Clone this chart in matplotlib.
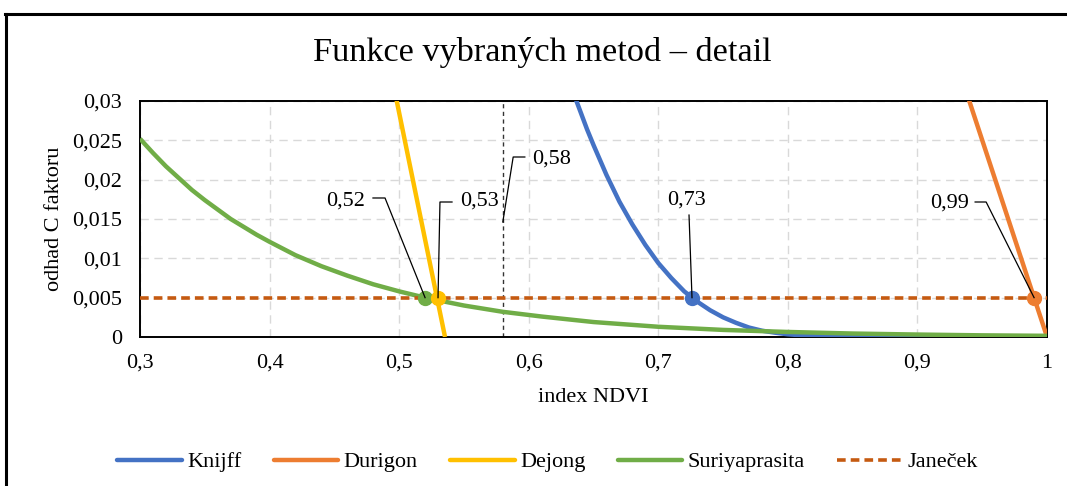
import matplotlib
matplotlib.use("Agg")
import matplotlib.pyplot as plt
from matplotlib.lines import Line2D
from matplotlib.ticker import FuncFormatter

plt.rcParams.update({
    "font.family": ["Liberation Serif", "DejaVu Serif"],
    "font.size": 16,
})

# ---------------------------------------------------------------------------
# Data
# ---------------------------------------------------------------------------
knijff_x = [0.63, 0.635, 0.64, 0.645, 0.65, 0.66, 0.67, 0.68, 0.69, 0.70, 0.71,
            0.72, 0.73, 0.74, 0.75, 0.76, 0.77, 0.78, 0.79, 0.80, 0.82, 0.85,
            0.90, 1.00]
knijff_y = [0.0332, 0.0308, 0.0286, 0.0264, 0.0244, 0.0206, 0.0172, 0.0143,
            0.0117, 0.0094, 0.0075, 0.0058, 0.0045, 0.0034, 0.0025, 0.0018,
            0.0012, 0.0008, 0.00055, 0.00034, 0.00011, 0.00001, 0.0, 0.0]

durigon_x = [0.93, 0.95, 0.97, 0.99, 1.00]
durigon_y = [0.035, 0.025, 0.015, 0.005, 0.0]

dejong_x = [0.49, 0.50, 0.52, 0.5354]
dejong_y = [0.0366, 0.0285, 0.0124, 0.0]

suriya_x = [0.30, 0.31, 0.32, 0.33, 0.34, 0.35, 0.36, 0.37, 0.38, 0.39, 0.40,
            0.42, 0.44, 0.46, 0.48, 0.50, 0.52, 0.55, 0.58, 0.61, 0.65, 0.70,
            0.75, 0.80, 0.85, 0.90, 0.95, 1.00]
suriya_y = [0.0252, 0.0234, 0.0217, 0.0202, 0.0187, 0.0174, 0.0162, 0.0150,
            0.0140, 0.0130, 0.0121, 0.0104, 0.0090, 0.0078, 0.0067, 0.0058,
            0.0050, 0.0040, 0.0032, 0.0026, 0.0019, 0.0013, 0.0009, 0.00064,
            0.00044, 0.00031, 0.00021, 0.00015]

janecek_x = [0.30, 1.00]
janecek_y = [0.005, 0.005]

# intersections with the Janeček limit
cross_x = [0.52, 0.53, 0.726, 0.99]
cross_y = [0.005, 0.005, 0.005, 0.005]
cross_labels = ["0,52", "0,53", "0,73", "0,99"]

ndvi_mark = 0.58

C_KNIJFF = "#4472C4"
C_DURIGON = "#ED7D31"
C_DEJONG = "#FFC000"
C_SURIYA = "#70AD47"
C_JANECEK = "#C55A11"

fig = plt.figure(figsize=(10.67, 4.86), dpi=100)
ax = fig.add_axes([0.1312, 0.3066, 0.8501, 0.4856])

lw = 3.2
ax.plot(knijff_x, knijff_y, color=C_KNIJFF, lw=lw, solid_capstyle="butt", zorder=3, label="Knijff")
ax.plot(durigon_x, durigon_y, color=C_DURIGON, lw=lw, solid_capstyle="butt", zorder=3, label="Durigon")
ax.plot(dejong_x, dejong_y, color=C_DEJONG, lw=lw, solid_capstyle="butt", zorder=3, label="Dejong")
ax.plot(suriya_x, suriya_y, color=C_SURIYA, lw=lw, solid_capstyle="butt", zorder=4, label="Suriyaprasita")
ax.plot(janecek_x, janecek_y, color=C_JANECEK, lw=2.6, ls=(0, (2.4, 1.4)), zorder=5, label="Janeček")

# vertical NDVI = 0.58 line
ax.plot([ndvi_mark, ndvi_mark], [0, 0.03], color="#333333", lw=1.0, ls=(0, (3, 2.5)), zorder=2)

# intersection markers
for xx, yy, c in zip(cross_x, cross_y, [C_SURIYA, C_DEJONG, C_KNIJFF, C_DURIGON]):
    ax.plot([xx], [yy], "o", color=c, ms=10, mec=c, zorder=6, clip_on=False)

# data labels with leader lines
lead_kw = dict(color="black", lw=0.9, zorder=7)
# 0,52
ax.plot([0.4798, 0.4891, cross_x[0]], [0.01767, 0.01767, 0.005], **lead_kw)
ax.text(0.459, 0.01729, cross_labels[0], ha="center", va="center")
# 0,53
ax.plot([0.5408, 0.5315, cross_x[1]], [0.01716, 0.01716, 0.005], **lead_kw)
ax.text(0.562, 0.01729, cross_labels[1], ha="center", va="center")
# 0,58
ax.plot([0.597, 0.588, ndvi_mark], [0.02288, 0.02288, 0.01462], **lead_kw)
ax.text(0.6025, 0.02263, "0,58", ha="left", va="center")
# 0,73
ax.plot([0.7237, cross_x[2]], [0.0155, 0.005], **lead_kw)
ax.text(0.7214, 0.01742, cross_labels[2], ha="center", va="center")
# 0,99
ax.plot([0.9445, 0.953, cross_x[3]], [0.01716, 0.01716, 0.005], **lead_kw)
ax.text(0.9244, 0.01703, cross_labels[3], ha="center", va="center")

ax.set_xlim(0.3, 1.0)
ax.set_ylim(0, 0.03)
ax.set_xticks([0.3, 0.4, 0.5, 0.6, 0.7, 0.8, 0.9, 1.0])
ax.set_yticks([0, 0.005, 0.01, 0.015, 0.02, 0.025, 0.03])


def comma_fmt(v, _pos):
    s = f"{v:.3f}".rstrip("0").rstrip(".")
    return s.replace(".", ",")


ax.xaxis.set_major_formatter(FuncFormatter(comma_fmt))
ax.yaxis.set_major_formatter(FuncFormatter(comma_fmt))
ax.tick_params(axis="both", length=0, labelsize=16)
ax.tick_params(axis="y", pad=13)
ax.tick_params(axis="x", pad=12)
ax.grid(True, color="#d9d9d9", lw=1.0, ls=(0, (6, 4)), zorder=0)
ax.set_axisbelow(True)
for sp in ax.spines.values():
    sp.set_linewidth(1.4)
    sp.set_color("black")

ax.set_xlabel("index NDVI", fontsize=16, labelpad=11)
ax.set_ylabel("odhad C faktoru", fontsize=16, labelpad=6)

fig.text(0.508, 0.893, "Funkce vybraných metod – detail", ha="center", va="center", fontsize=24.7)

handles = [
    Line2D([], [], color=C_KNIJFF, lw=3.2, solid_capstyle="round"),
    Line2D([], [], color=C_DURIGON, lw=3.2, solid_capstyle="round"),
    Line2D([], [], color=C_DEJONG, lw=3.2, solid_capstyle="round"),
    Line2D([], [], color=C_SURIYA, lw=3.2, solid_capstyle="round"),
    Line2D([], [], color=C_JANECEK, lw=2.6, ls=(0, (2.4, 1.4))),
]
labels = ["Knijff", "Durigon", "Dejong", "Suriyaprasita", "Janeček"]
fig.legend(handles, labels, loc="center", bbox_to_anchor=(0.513, 0.049), ncol=5,
           frameon=False, fontsize=16, handlelength=2.9, handletextpad=0.25,
           columnspacing=1.45)

# outer chart border (top and left edges visible in the reference)
fig.add_artist(Line2D([0.005, 1.0], [0.972, 0.972], color="black", lw=2.2, transform=fig.transFigure))
fig.add_artist(Line2D([0.006, 0.006], [0.0, 0.972], color="black", lw=2.2, transform=fig.transFigure))

fig.savefig("out.png", dpi=100)
